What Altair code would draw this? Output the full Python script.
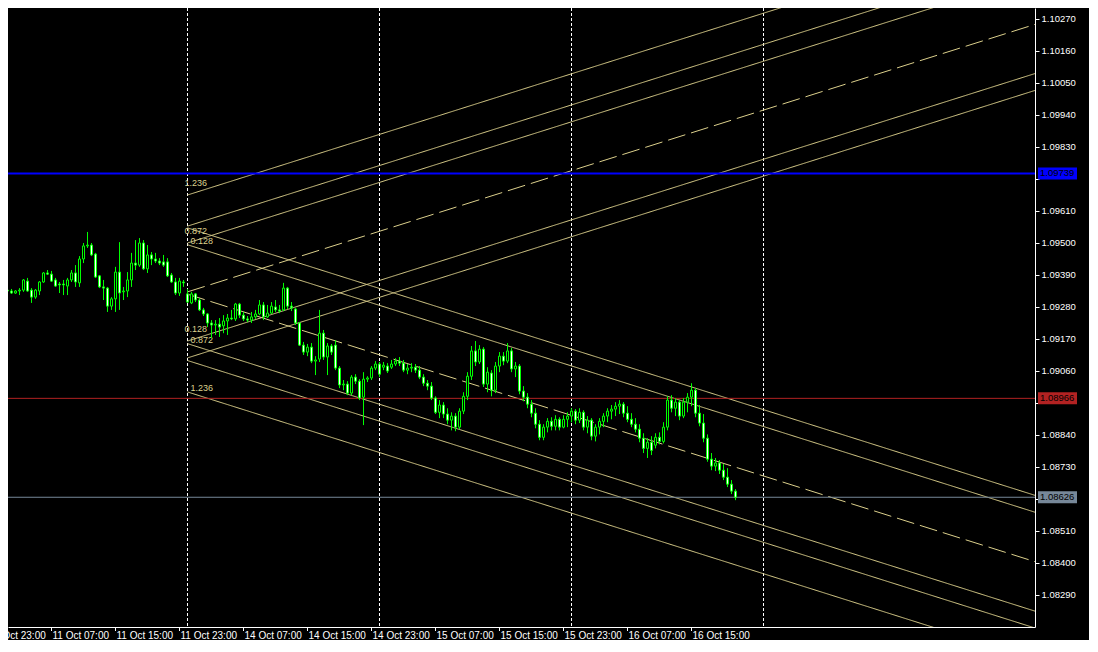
import altair as alt
import pandas as pd

# ---------------- data ----------------
# 30-minute bars; bar 0 = 14 Oct 00:00 (first bar after the weekend)
bar_index = list(range(-46, 138))

# prices in points (1e-5)
open_pts = [
    109338, 109338, 109335, 109328, 109335, 109338, 109369, 109338,
    109314, 109335, 109366, 109397, 109393, 109373, 109359, 109359,
    109352, 109373, 109397, 109363, 109445, 109490, 109493, 109462,
    109387, 109349, 109345, 109283, 109308, 109400, 109332, 109335,
    109373, 109431, 109424, 109500, 109411, 109459, 109445, 109438,
    109435, 109435, 109390, 109366, 109328, 109366, 109325, 109294,
    109325, 109304, 109270, 109256, 109225, 109218, 109221, 109215,
    109232, 109242, 109239, 109290, 109252, 109239, 109235, 109246,
    109256, 109287, 109246, 109259, 109280, 109270, 109270, 109345,
    109283, 109273, 109225, 109149, 109125, 109142, 109094, 109101,
    109190, 109108, 109146, 109149, 109070, 109012, 109015, 108984,
    109039, 109025, 108970, 109032, 109036, 109070, 109084, 109073,
    109077, 109073, 109084, 109094, 109087, 109063, 109070, 109073,
    109063, 109039, 109018, 109008, 108967, 108918, 108943, 108912,
    108891, 108905, 108867, 108922, 108973, 109042, 109129, 109091,
    109135, 109015, 109053, 108994, 109077, 109111, 109094, 109129,
    109067, 109077, 108991, 108970, 108946, 108915, 108877, 108832,
    108867, 108887, 108870, 108894, 108867, 108894, 108905, 108922,
    108891, 108918, 108867, 108891, 108836, 108867, 108887, 108905,
    108922, 108929, 108939, 108946, 108915, 108894, 108877, 108860,
    108829, 108794, 108815, 108805, 108832, 108818, 108867, 108960,
    108932, 108953, 108905, 108953, 108970, 108994, 108915, 108881,
    108829, 108757, 108733, 108744, 108719, 108695, 108671, 108647,
]
high_pts = [
    109349, 109345, 109342, 109338, 109345, 109376, 109380, 109345,
    109342, 109369, 109400, 109407, 109404, 109380, 109366, 109373,
    109380, 109407, 109424, 109455, 109500, 109538, 109500, 109466,
    109390, 109373, 109349, 109314, 109418, 109503, 109349, 109400,
    109466, 109510, 109517, 109510, 109493, 109469, 109466, 109448,
    109459, 109448, 109397, 109380, 109380, 109373, 109342, 109332,
    109328, 109311, 109277, 109259, 109235, 109235, 109242, 109252,
    109256, 109270, 109294, 109294, 109263, 109249, 109263, 109270,
    109304, 109297, 109287, 109297, 109304, 109287, 109363, 109349,
    109297, 109277, 109228, 109160, 109153, 109156, 109111, 109270,
    109201, 109156, 109153, 109166, 109077, 109029, 109025, 109046,
    109049, 109032, 109056, 109042, 109077, 109094, 109091, 109091,
    109087, 109098, 109104, 109108, 109098, 109084, 109087, 109084,
    109077, 109049, 109029, 109022, 108973, 108960, 108953, 108932,
    108918, 108915, 108932, 108987, 109056, 109146, 109163, 109149,
    109142, 109073, 109063, 109091, 109125, 109125, 109156, 109139,
    109091, 109084, 109008, 108984, 108960, 108932, 108891, 108877,
    108898, 108901, 108908, 108901, 108908, 108918, 108932, 108929,
    108932, 108925, 108905, 108898, 108877, 108898, 108915, 108932,
    108943, 108953, 108960, 108953, 108939, 108915, 108898, 108877,
    108846, 108829, 108836, 108846, 108849, 108884, 108973, 108977,
    108967, 108960, 108967, 108984, 109018, 109001, 108943, 108912,
    108842, 108778, 108761, 108754, 108740, 108726, 108685, 108654,
]
low_pts = [
    109332, 109328, 109325, 109325, 109321, 109332, 109332, 109294,
    109308, 109321, 109363, 109390, 109366, 109349, 109328, 109321,
    109321, 109366, 109349, 109349, 109431, 109483, 109455, 109380,
    109345, 109304, 109263, 109270, 109263, 109270, 109304, 109314,
    109349, 109407, 109418, 109407, 109397, 109424, 109431, 109424,
    109418, 109383, 109363, 109321, 109318, 109349, 109294, 109290,
    109297, 109266, 109249, 109211, 109173, 109184, 109177, 109190,
    109184, 109235, 109232, 109242, 109232, 109228, 109225, 109239,
    109252, 109235, 109242, 109256, 109263, 109259, 109266, 109273,
    109266, 109218, 109146, 109115, 109111, 109087, 109046, 109091,
    109098, 109046, 109115, 109063, 109001, 108994, 108977, 108977,
    109015, 108960, 108874, 109022, 109029, 109063, 109039, 109063,
    109053, 109067, 109077, 109077, 109056, 109049, 109056, 109053,
    109032, 109008, 108994, 108960, 108912, 108898, 108898, 108877,
    108856, 108853, 108860, 108912, 108960, 109029, 109077, 109084,
    109005, 108987, 108973, 108984, 109056, 109080, 109087, 109056,
    109039, 108980, 108956, 108932, 108901, 108863, 108822, 108822,
    108849, 108856, 108856, 108856, 108863, 108867, 108884, 108877,
    108881, 108856, 108846, 108822, 108818, 108842, 108867, 108884,
    108894, 108905, 108912, 108901, 108884, 108867, 108849, 108815,
    108778, 108761, 108771, 108794, 108808, 108811, 108856, 108918,
    108905, 108891, 108898, 108918, 108939, 108901, 108870, 108815,
    108748, 108719, 108716, 108706, 108685, 108661, 108637, 108616,
]
close_pts = [
    109338, 109335, 109328, 109335, 109338, 109373, 109335, 109314,
    109338, 109366, 109397, 109393, 109369, 109352, 109356, 109356,
    109373, 109397, 109366, 109445, 109490, 109493, 109459, 109383,
    109349, 109345, 109283, 109308, 109400, 109328, 109335, 109373,
    109431, 109424, 109500, 109411, 109459, 109445, 109438, 109431,
    109424, 109387, 109366, 109328, 109369, 109363, 109297, 109325,
    109304, 109270, 109256, 109225, 109218, 109221, 109211, 109232,
    109242, 109239, 109290, 109252, 109239, 109235, 109246, 109256,
    109287, 109246, 109259, 109283, 109270, 109266, 109345, 109283,
    109277, 109225, 109149, 109125, 109142, 109094, 109098, 109190,
    109108, 109146, 109125, 109070, 109012, 109015, 108984, 109039,
    109025, 108967, 109032, 109036, 109070, 109084, 109049, 109080,
    109060, 109084, 109094, 109087, 109063, 109070, 109073, 109063,
    109039, 109018, 109008, 108967, 108918, 108943, 108912, 108891,
    108905, 108867, 108922, 108973, 109042, 109129, 109091, 109135,
    109015, 109056, 108994, 109077, 109111, 109094, 109129, 109067,
    109077, 108991, 108970, 108946, 108915, 108877, 108832, 108867,
    108887, 108870, 108894, 108867, 108894, 108905, 108922, 108891,
    108918, 108867, 108891, 108836, 108867, 108887, 108905, 108922,
    108929, 108939, 108946, 108915, 108894, 108877, 108860, 108829,
    108794, 108815, 108787, 108832, 108818, 108867, 108960, 108932,
    108953, 108905, 108953, 108970, 108994, 108915, 108881, 108829,
    108757, 108733, 108744, 108719, 108695, 108671, 108647, 108626,
]

# bottom time axis
time_tick_bars = [-50, -34, -18, -2, 14, 30, 46, 62, 78, 94, 110, 126]
time_tick_labels = ["10 Oct 23:00", "11 Oct 07:00", "11 Oct 15:00", "11 Oct 23:00",
                    "14 Oct 07:00", "14 Oct 15:00", "14 Oct 23:00", "15 Oct 07:00",
                    "15 Oct 15:00", "15 Oct 23:00", "16 Oct 07:00", "16 Oct 15:00"]
day_separator_bars = [0, 48, 96, 144]

# right price axis (labels under the price boxes are hidden)
price_ticks = [1.08290, 1.08400, 1.08510, 1.08620, 1.08730, 1.08840, 1.08950,
               1.09060, 1.09170, 1.09280, 1.09390, 1.09500, 1.09610, 1.09720,
               1.09830, 1.09940, 1.10050, 1.10160, 1.10270]
hidden_tick_labels = ["1.08620", "1.08950", "1.09720"]

# horizontal price lines
hline_prices = [1.09739, 1.08966, 1.08626]
hline_colors = ["#0000ff", "#b22222", "#778899"]
hline_widths = [2, 1, 1]

# Fibonacci channels (prices at bar 0 and bar 212)
fib_levels = ["1.236", "1", "0.872", "0.5", "0.128", "0"]
rise_start = [1.09665, 1.09558, 1.09500, 1.09332, 1.09163, 1.09105]
rise_end = [1.10585, 1.10478, 1.10420, 1.10252, 1.10083, 1.10025]
fall_levels = ["0", "0.128", "0.5", "0.872", "1", "1.236"]
fall_start = [1.09552, 1.09494, 1.09324, 1.09154, 1.09096, 1.08988]
fall_end = [1.08632, 1.08574, 1.08404, 1.08234, 1.08176, 1.08068]
fib_start_bar, fib_end_bar = 0, 212
labelled_levels = ["1.236", "0.872", "0.128"]

# ---------------- tables ----------------
candles = pd.DataFrame({
    "i": bar_index,
    "open": [v / 1e5 for v in open_pts],
    "high": [v / 1e5 for v in high_pts],
    "low": [v / 1e5 for v in low_pts],
    "close": [v / 1e5 for v in close_pts],
})
candles["dir"] = ["bull" if c > o else ("bear" if c < o else "doji")
                  for o, c in zip(open_pts, close_pts)]

fib_rows = []
for k, (lv, s, e) in enumerate(zip(fib_levels, rise_start, rise_end)):
    style = "dash" if lv == "0.5" else "solid"
    fib_rows.append({"line": f"r{k}", "i": fib_start_bar, "p": s, "style": style})
    fib_rows.append({"line": f"r{k}", "i": fib_end_bar, "p": e, "style": style})
for k, (lv, s, e) in enumerate(zip(fall_levels, fall_start, fall_end)):
    style = "dash" if lv == "0.5" else "solid"
    fib_rows.append({"line": f"f{k}", "i": fib_start_bar, "p": s, "style": style})
    fib_rows.append({"line": f"f{k}", "i": fib_end_bar, "p": e, "style": style})
fib_df = pd.DataFrame(fib_rows)

rise_lab = pd.DataFrame([{"i": fib_start_bar, "p": s, "t": lv}
                         for lv, s in zip(fib_levels, rise_start) if lv in labelled_levels])
fall_lab = pd.DataFrame([{"i": fib_start_bar, "p": s, "t": lv}
                         for lv, s in zip(fall_levels, fall_start) if lv in labelled_levels])

hl_df = pd.DataFrame({"p": hline_prices, "c": hline_colors, "w": hline_widths})
tick_df = pd.DataFrame({"i": time_tick_bars, "t": time_tick_labels})
sep_df = pd.DataFrame({"i": day_separator_bars})

# ---------------- chart ----------------
W, H = 1027, 619
KHAKI = "#DCD08C"
LIME = "#00FF00"
FONT = "Liberation Sans"

hidden_expr = "indexof(" + str(hidden_tick_labels).replace("'", '"') + ", datum.label) >= 0 ? '' : datum.label"

xs = alt.Scale(domain=[-44.875, 211.875], nice=False, zero=False)
ys = alt.Scale(domain=[1.0818, 1.103078], nice=False, zero=False)
xaxis = alt.Axis(title=None, labels=False, ticks=False, grid=False, domain=True,
                 domainColor="#ffffff", domainWidth=1)
yaxis = alt.Axis(orient="right", values=price_ticks, format=".5f", title=None, grid=False,
                 labelColor="#ffffff", labelFont=FONT, labelFontSize=9.5, tickColor="#ffffff",
                 tickSize=4, domainColor="#ffffff", labelPadding=2, labelOverlap=False,
                 labelFlush=False, labelBound=False, labelExpr=hidden_expr)


def X(f):
    return alt.X(f, scale=xs, axis=xaxis)


def Y(f):
    return alt.Y(f, scale=ys, axis=yaxis)


separators = alt.Chart(sep_df).mark_rule(color="#ffffff", strokeDash=[3, 2], clip=True).encode(
    x=X("i:Q"), y=alt.value(0), y2=alt.value(H))

fib_lines = alt.Chart(fib_df).mark_line(color=KHAKI, strokeWidth=1, clip=True).encode(
    x=X("i:Q"), y=Y("p:Q"), detail="line:N",
    strokeDash=alt.StrokeDash("style:N", scale=alt.Scale(domain=["solid", "dash"],
                                                        range=[[1, 0], [18, 6]]), legend=None))

rise_text = alt.Chart(rise_lab).mark_text(color=KHAKI, font=FONT, fontSize=9, align="left",
                                          baseline="bottom", dx=-3, dy=-7).encode(
    x=X("i:Q"), y=Y("p:Q"), text="t:N")
fall_text = alt.Chart(fall_lab).mark_text(color=KHAKI, font=FONT, fontSize=9, align="left",
                                          baseline="bottom", dx=3, dy=1).encode(
    x=X("i:Q"), y=Y("p:Q"), text="t:N")

hlines = alt.Chart(hl_df).mark_rule(clip=True).encode(
    y=Y("p:Q"), x=alt.value(0), x2=alt.value(W),
    color=alt.Color("c:N", scale=None), strokeWidth=alt.StrokeWidth("w:Q", scale=None))

wicks = alt.Chart(candles).mark_rule(color=LIME, strokeWidth=1, clip=True).encode(
    x=X("i:Q"), y=Y("low:Q"), y2="high:Q")
bodies = alt.Chart(candles).transform_calculate(
    x1="datum.i - 0.25", x2="datum.i + 0.25").mark_rect(
    stroke=LIME, strokeWidth=1, clip=True).encode(
    x=X("x1:Q"), x2="x2:Q", y=Y("open:Q"), y2="close:Q",
    fill=alt.Fill("dir:N", scale=alt.Scale(domain=["bull", "bear", "doji"],
                                           range=["#000000", "#ffffff", LIME]), legend=None))

box = alt.Chart(hl_df).mark_rule(strokeWidth=12, strokeCap="butt").encode(
    y=Y("p:Q"), x=alt.value(W + 3), x2=alt.value(W + 42),
    color=alt.Color("c:N", scale=None))
box_text = alt.Chart(hl_df).mark_text(align="left", baseline="middle", font=FONT, fontSize=9.5,
                                      color="#000000").encode(
    y=Y("p:Q"), x=alt.value(W + 5), text=alt.Text("p:Q", format=".5f"))

tick_marks = alt.Chart(tick_df).mark_rule(color="#ffffff").encode(
    x=X("i:Q"), y=alt.value(H), y2=alt.value(H + 4))
tick_text = alt.Chart(tick_df).mark_text(align="left", baseline="middle", font=FONT,
                                         fontSize=10, color="#ffffff", dx=1).encode(
    x=X("i:Q"), y=alt.value(H + 9), text="t:N")

chart = alt.layer(
    separators, fib_lines, rise_text, fall_text, hlines, wicks, bodies,
    box, box_text, tick_marks, tick_text
).properties(
    width=W, height=H, background="#000000",
    padding={"left": 0, "top": 0, "right": 54, "bottom": 13},
    autosize=alt.AutoSizeParams(type="none"),
).configure_view(stroke=None, fill="#000000")

chart.save("out.html", embed_options={"renderer": "svg", "actions": False})
